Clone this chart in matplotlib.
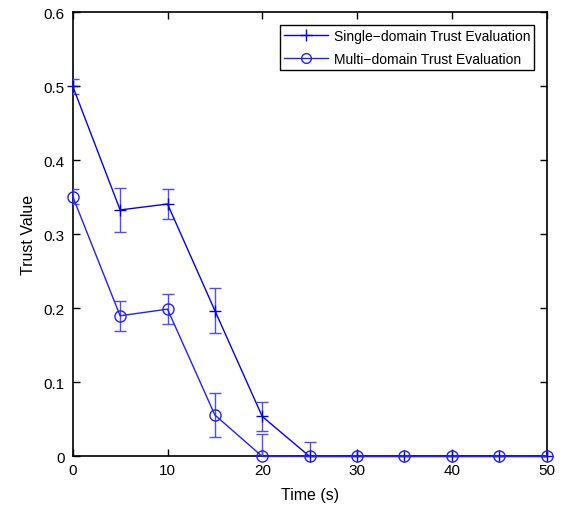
import matplotlib
matplotlib.use("Agg")
import matplotlib.pyplot as plt
from matplotlib.lines import Line2D

time_s = [0, 5, 10, 15, 20, 25, 30, 35, 40, 45, 50]
single_vals = [0.50, 0.333, 0.341, 0.197, 0.054, 0, 0, 0, 0, 0, 0]
single_err = [0.01, 0.03, 0.02, 0.03, 0.02, 0.02, 0, 0, 0, 0, 0]
multi_vals = [0.351, 0.190, 0.199, 0.056, 0, 0, 0, 0, 0, 0, 0]
multi_err = [0.01, 0.02, 0.02, 0.03, 0.03, 0, 0, 0, 0, 0, 0]
labels = ["Single\u2212domain Trust Evaluation", "Multi\u2212domain Trust Evaluation"]

plt.rcParams['font.family'] = ['Liberation Sans', 'DejaVu Sans']
fig = plt.figure(figsize=(5.64, 5.10), dpi=100)
ax = fig.add_axes([0.129, 0.103, 0.840, 0.871])

handles = []
specs = [
    (single_vals, single_err, '#0000ff', '+', 9, 'none'),
    (multi_vals, multi_err, '#2020ff', 'o', 8, 'none'),
]
for (vals, err, col, mk, ms, mfc), lab in zip(specs, labels):
    cont = ax.errorbar(time_s, vals, yerr=err, color=col, ecolor='#4d4dff',
                       elinewidth=1.0, capsize=4, capthick=1.0, marker=mk,
                       markersize=ms, markerfacecolor=mfc, linewidth=1.0,
                       zorder=3)
    line, caps, bars = cont.lines
    line.set_clip_on(False)
    for c in caps:
        c.set_clip_on(True)
    for b in bars:
        b.set_clip_on(True)
    handles.append(Line2D([], [], color=col, marker=mk, markersize=ms - 1,
                          markerfacecolor=mfc, linewidth=1.0, label=lab))

ax.set_xlim(0, 50)
ax.set_ylim(0, 0.6)
ax.set_xticks([0, 10, 20, 30, 40, 50])
ax.set_yticks([0, 0.1, 0.2, 0.3, 0.4, 0.5, 0.6])
ax.set_yticklabels(['0', '0.1', '0.2', '0.3', '0.4', '0.5', '0.6'])
ax.tick_params(direction='in', top=True, right=True, labelsize=11, length=5, width=1)
ax.tick_params(axis='x', pad=5)
ax.tick_params(axis='y', pad=6)
for s in ax.spines.values():
    s.set_linewidth(1.2)
ax.set_xlabel('Time (s)', fontsize=11.5, labelpad=7)
ax.set_ylabel('Trust Value', fontsize=11.5, labelpad=5)

leg = ax.legend(handles=handles, loc='upper right', fontsize=10, fancybox=False,
                edgecolor='black', framealpha=1, borderpad=0.3, handlelength=3.2,
                handletextpad=0.4, borderaxespad=0.6, labelspacing=0.6,
                bbox_to_anchor=(0.992, 0.99))
leg.get_frame().set_linewidth(1.0)

fig.savefig('out.png', dpi=100)
